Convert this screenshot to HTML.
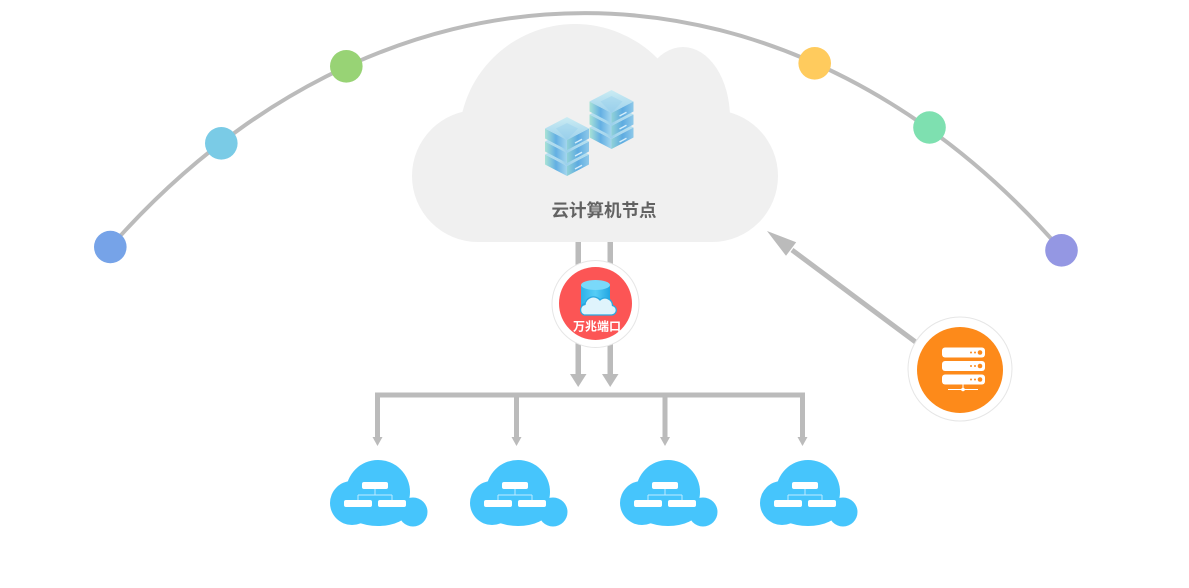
<!DOCTYPE html>
<html>
<head>
<meta charset="utf-8">
<style>
html,body{margin:0;padding:0;background:#fff;}
svg{display:block;}
text{font-family:"Liberation Sans","Noto Sans CJK SC",sans-serif;}
</style>
</head>
<body>
<svg width="1189" height="588" viewBox="0 0 1189 588" xmlns="http://www.w3.org/2000/svg">
<defs>
  <clipPath id="cc"><rect x="0" y="0" width="1189" height="242"/></clipPath>
  <linearGradient id="side" x1="0" y1="0" x2="1" y2="0">
    <stop offset="0" stop-color="#a9e3d6"/>
    <stop offset="0.5" stop-color="#63afe3"/>
    <stop offset="1" stop-color="#a4d6ee"/>
  </linearGradient>
  <linearGradient id="topf" x1="0" y1="0" x2="0" y2="1">
    <stop offset="0" stop-color="#cbecf3"/>
    <stop offset="1" stop-color="#9fd2ec"/>
  </linearGradient>
  <linearGradient id="cyl" x1="0" y1="0" x2="1" y2="0">
    <stop offset="0" stop-color="#2eb2ea"/>
    <stop offset="0.5" stop-color="#55cdf6"/>
    <stop offset="1" stop-color="#22a6e2"/>
  </linearGradient>
  <g id="slab">
    <polygon points="-22,11.5 0,23 0,33 -22,21.5" fill="url(#side)"/>
    <polygon points="0,23 22,11.5 22,21.5 0,33" fill="url(#side)"/>
    <polygon points="0,23 22,11.5 22,21.5 0,33" fill="#4b9fdc" opacity="0.25"/>
    <polygon points="0,0 22,11.5 0,23 -22,11.5" fill="url(#topf)"/>
    <polygon points="0,6 11,11.5 0,23 -11,11.5" fill="#8fcbea" opacity="0.35"/>
    <line x1="8" y1="26" x2="15" y2="22.3" stroke="#e8f8ff" stroke-width="1.4" opacity="0.85"/>
  </g>
  <g id="bcloud">
    <circle cx="378" cy="492" r="32"/>
    <circle cx="352" cy="503" r="22"/>
    <circle cx="413" cy="512" r="14.5"/>
    <ellipse cx="378" cy="511" rx="30" ry="15"/>
  </g>
  <g id="bicon">
    <rect x="362" y="482" width="26" height="7" rx="2" fill="#fff"/>
    <rect x="344" y="500" width="28" height="7" rx="2" fill="#fff"/>
    <rect x="378" y="500" width="28" height="7" rx="2" fill="#fff"/>
    <path d="M375 489 V495 M358 495 H392 M358 495 V500 M392 495 V500" stroke="#bfeaff" stroke-width="1" fill="none"/>
  </g>
</defs>

<!-- arc -->
<path d="M110.3 247 A740 1007 0 0 1 1061.5 250.3" fill="none" stroke="#bbbbbb" stroke-width="4"/>
<circle cx="110.3" cy="247" r="16.3" fill="#76a3e8"/>
<circle cx="221.3" cy="143.3" r="16.3" fill="#7acbe6"/>
<circle cx="346.3" cy="66.3" r="16.3" fill="#98d375"/>
<circle cx="814.7" cy="63.3" r="16.3" fill="#ffcb5d"/>
<circle cx="929.5" cy="127.5" r="16.3" fill="#7ee0b0"/>
<circle cx="1061.5" cy="250.3" r="16.3" fill="#9497e3"/>

<!-- gray cloud -->
<g fill="#f0f0f0" clip-path="url(#cc)">
  <circle cx="575" cy="140" r="116"/>
  <ellipse cx="683" cy="118" rx="47" ry="71"/>
  <circle cx="478" cy="176" r="66"/>
  <circle cx="712" cy="176" r="66"/>
  <rect x="478" y="115" width="234" height="127"/>
</g>

<!-- server stacks -->
<g transform="translate(611.5,90)">
  <use href="#slab" y="26"/>
  <use href="#slab" y="13"/>
  <use href="#slab" y="0"/>
</g>
<g transform="translate(567,117)">
  <use href="#slab" y="26"/>
  <use href="#slab" y="13"/>
  <use href="#slab" y="0"/>
</g>

<text x="604" y="216.5" text-anchor="middle" font-size="17.5" font-weight="bold" fill="#626262">云计算机节点</text>

<!-- vertical bars -->
<rect x="575.5" y="242" width="5.5" height="133" fill="#bbbbbb"/>
<rect x="607.5" y="242" width="5.5" height="133" fill="#bbbbbb"/>
<polygon points="570,374 586.5,374 578.2,387" fill="#bbbbbb"/>
<polygon points="602,374 618.5,374 610.2,387" fill="#bbbbbb"/>

<!-- red node -->
<circle cx="595.5" cy="304" r="43.5" fill="#fff" stroke="#e6e6e6" stroke-width="1"/>
<circle cx="595.5" cy="303.5" r="36.5" fill="#fc5555"/>
<rect x="581" y="285" width="29" height="21" fill="url(#cyl)"/>
<ellipse cx="595.5" cy="306" rx="14.5" ry="4.5" fill="#23a6e0"/>
<ellipse cx="595.5" cy="285" rx="14.5" ry="5" fill="#7ad9fa"/>
<path d="M584 315 a5.5 5.5 0 0 1 1 -10.5 a8.5 8.5 0 0 1 15 -4.5 a7.5 7.5 0 0 1 12.5 5.5 a4.8 4.8 0 0 1 -1 9.5 z" fill="#dff4fc" stroke="#2aa8e0" stroke-width="1.3"/>
<text x="597" y="330.5" text-anchor="middle" font-size="12" font-weight="bold" fill="#ffffff">万兆端口</text>

<!-- branch lines -->
<path d="M377.5 438 V395 H802.5 V438 M516.5 395 V438 M665 395 V438" fill="none" stroke="#bbbbbb" stroke-width="5"/>
<polygon points="372.5,437 382.5,437 377.5,446" fill="#bbbbbb"/>
<polygon points="511.5,437 521.5,437 516.5,446" fill="#bbbbbb"/>
<polygon points="660,437 670,437 665,446" fill="#bbbbbb"/>
<polygon points="797.5,437 807.5,437 802.5,446" fill="#bbbbbb"/>

<!-- blue clouds -->
<g fill="#46c5fc">
  <use href="#bcloud"/>
  <use href="#bcloud" x="140"/>
  <use href="#bcloud" x="290"/>
  <use href="#bcloud" x="430"/>
</g>
<use href="#bicon"/>
<use href="#bicon" x="140"/>
<use href="#bicon" x="290"/>
<use href="#bicon" x="430"/>

<!-- orange arrow -->
<line x1="925" y1="349" x2="792" y2="250" stroke="#bbbbbb" stroke-width="5"/>
<polygon points="767,231 796.2,242.2 786,255.8" fill="#bbbbbb"/>

<!-- orange node -->
<circle cx="960" cy="369" r="52" fill="#fff" stroke="#e6e6e6" stroke-width="1"/>
<circle cx="960" cy="370" r="43" fill="#fd8a1a"/>
<rect x="942" y="347.5" width="43" height="10" rx="3" fill="#fff"/>
<rect x="942" y="361" width="43" height="10" rx="3" fill="#fff"/>
<rect x="942" y="374.5" width="43" height="10" rx="3" fill="#fff"/>
<g fill="#fd8a1a">
  <circle cx="971" cy="352.5" r="1"/><circle cx="975" cy="352.5" r="1"/><circle cx="980" cy="352.5" r="2.3"/>
  <circle cx="971" cy="366" r="1"/><circle cx="975" cy="366" r="1"/><circle cx="980" cy="366" r="2.3"/>
  <circle cx="971" cy="379.5" r="1"/><circle cx="975" cy="379.5" r="1"/><circle cx="980" cy="379.5" r="2.3"/>
</g>
<path d="M948 389.5 H978 M963 384.5 V389.5" stroke="#fff" stroke-width="1"/>
<circle cx="963" cy="389.5" r="1.8" fill="#fff"/>
</svg>
</body>
</html>
